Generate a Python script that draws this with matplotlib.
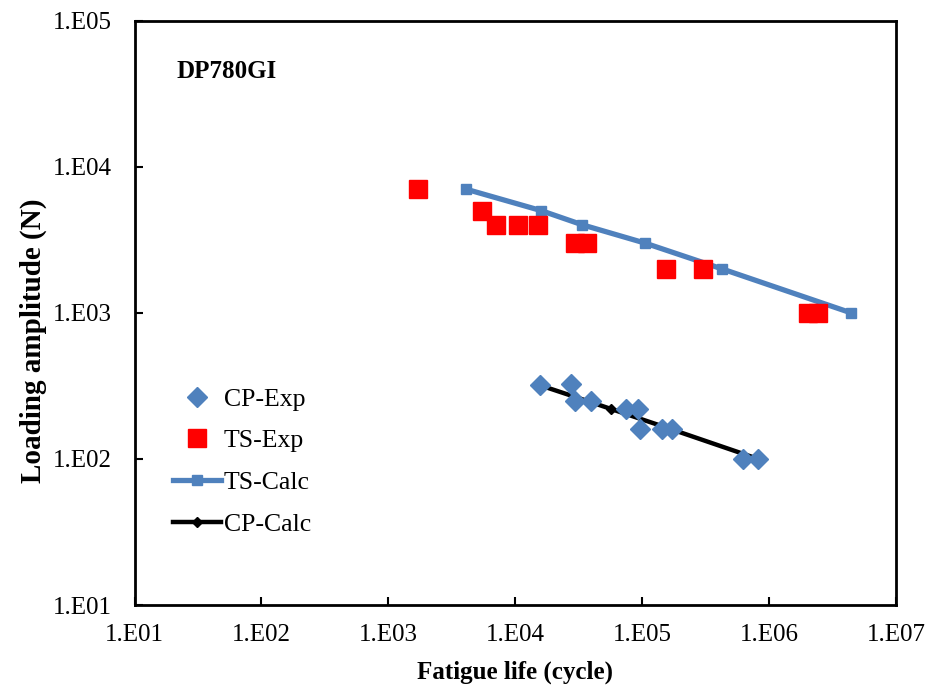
import numpy as np
import matplotlib
matplotlib.use("Agg")
import matplotlib.pyplot as plt
from matplotlib.ticker import FixedLocator, FuncFormatter, NullLocator

plt.rcParams['font.family'] = ['Liberation Serif', 'DejaVu Serif']

# CP - experimental
cp_exp_life = [15700, 27300, 29400, 39700, 75000, 93000, 95700, 142000, 173000, 627000, 824000]
cp_exp_load = [320, 325, 250, 250, 220, 220, 160, 160, 160, 100, 100]

# TS - experimental
ts_exp_life = [1710, 5480, 7000, 10500, 15200, 29500, 36700, 154000, 303000, 2030000, 2440000]
ts_exp_load = [7000, 5000, 4000, 4000, 4000, 3000, 3000, 2000, 2000, 1000, 1000]

# TS - calculated
ts_calc_life = [4120, 16000, 33700, 105000, 423000, 4400000]
ts_calc_load = [7000, 5000, 4000, 3000, 2000, 1000]

# CP - calculated
cp_calc_life = [15500, 36500, 56500, 168000, 818000]
cp_calc_load = [320, 250, 220, 160, 100]

blue = '#4F81BD'

fig = plt.figure(figsize=(9.36, 6.88), dpi=100)
ax = fig.add_axes([0.1437, 0.1206, 0.8136, 0.8496])

ax.plot(cp_exp_life, cp_exp_load, 'D', color=blue, markersize=10.5, label='CP-Exp', zorder=4)
ax.plot(ts_exp_life, ts_exp_load, 's', color='#FF0000', markersize=13, label='TS-Exp', zorder=3)
ax.plot(ts_calc_life, ts_calc_load, '-s', color=blue, lw=3.8, markersize=6.5, label='TS-Calc', zorder=2)
ax.plot(cp_calc_life, cp_calc_load, '-D', color='black', lw=3.2, markersize=5, label='CP-Calc', zorder=3)

ax.set_xscale('log')
ax.set_yscale('log')
ax.set_xlim(1e1, 1e7)
ax.set_ylim(1e1, 1e5)

fmt = FuncFormatter(lambda v, p: "1.E%02d" % int(round(np.log10(v))))
ax.xaxis.set_major_locator(FixedLocator([10.0 ** k for k in range(1, 8)]))
ax.yaxis.set_major_locator(FixedLocator([10.0 ** k for k in range(1, 6)]))
ax.xaxis.set_major_formatter(fmt)
ax.yaxis.set_major_formatter(fmt)
ax.xaxis.set_minor_locator(NullLocator())
ax.yaxis.set_minor_locator(NullLocator())
ax.tick_params(axis='both', direction='in', length=6, width=1.5, labelsize=18)
ax.tick_params(axis='x', pad=14)
ax.tick_params(axis='y', pad=16)
for s in ax.spines.values():
    s.set_linewidth(2)

ax.set_xlabel('Fatigue life (cycle)', fontsize=18, fontweight='bold', labelpad=10)
ax.set_ylabel('Loading amplitude (N)', fontsize=21, fontweight='bold')
ax.yaxis.set_label_coords(-0.115, 0.452)

ax.text(0.121, 0.912, 'DP780GI', transform=ax.transAxes, ha='center', va='center',
        fontsize=18, fontweight='bold')

ax.legend(loc='upper left', bbox_to_anchor=(0.05, 0.372), frameon=False, fontsize=18.5,
          handlelength=1.9, handletextpad=0.1, labelspacing=0.73, borderpad=0, borderaxespad=0)

fig.savefig('out.png', dpi=100)
